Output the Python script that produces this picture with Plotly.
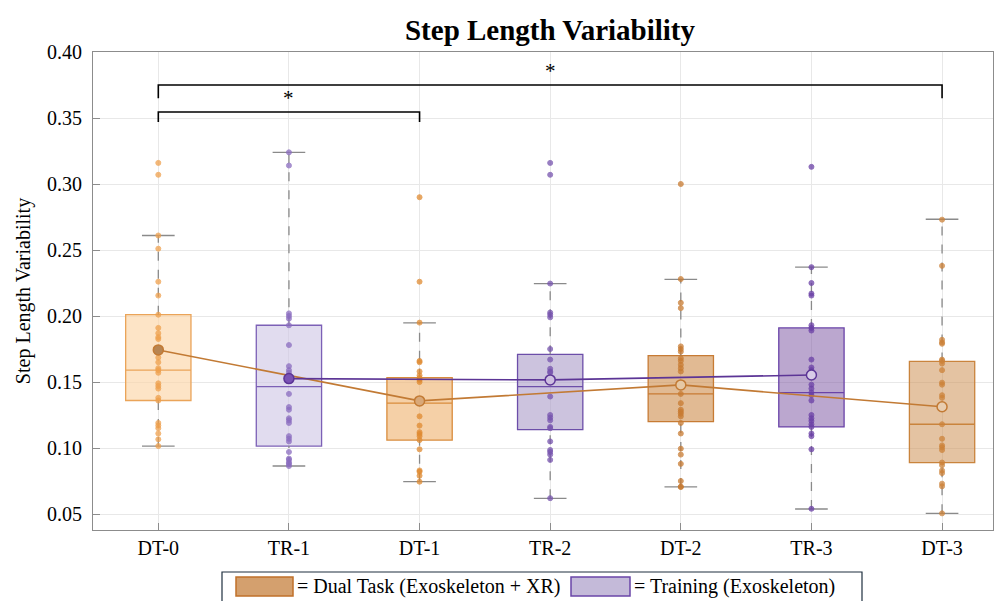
import plotly.graph_objects as go

categories = ["DT-0", "TR-1", "DT-1", "TR-2", "DT-2", "TR-3", "DT-3"]
groups = ["DT", "TR", "DT", "TR", "DT", "TR", "DT"]

q1 = [0.136, 0.1015, 0.106, 0.114, 0.120, 0.116, 0.0889]
median = [0.159, 0.1465, 0.134, 0.1465, 0.141, 0.142, 0.118]
q3 = [0.201, 0.193, 0.1533, 0.171, 0.170, 0.191, 0.1656]
whisker_low = [0.1015, 0.0864, 0.0745, 0.0619, 0.0705, 0.0538, 0.0505]
whisker_high = [0.261, 0.324, 0.1948, 0.2246, 0.2278, 0.237, 0.2733]
means = [0.1743, 0.1526, 0.1357, 0.1516, 0.1478, 0.1553, 0.1313]

points = [
    [0.316, 0.307, 0.261, 0.251, 0.226, 0.2155, 0.201, 0.191, 0.187, 0.184, 0.1826, 0.174,
     0.1685, 0.165, 0.1605, 0.159, 0.157, 0.149, 0.147, 0.145, 0.138, 0.136, 0.119, 0.117,
     0.115, 0.111, 0.1066, 0.1015],
    [0.324, 0.314, 0.202, 0.200, 0.198, 0.193, 0.178, 0.162, 0.159, 0.157, 0.153, 0.141,
     0.131, 0.129, 0.1225, 0.121, 0.119, 0.109, 0.107, 0.105, 0.097, 0.092, 0.091, 0.089,
     0.088, 0.0864],
    [0.290, 0.226, 0.195, 0.166, 0.165, 0.158, 0.155, 0.153, 0.1516, 0.150, 0.137, 0.134,
     0.124, 0.117, 0.112, 0.1106, 0.109, 0.106, 0.099, 0.083, 0.082, 0.079, 0.0745],
    [0.316, 0.307, 0.2246, 0.2026, 0.201, 0.199, 0.175, 0.167, 0.160, 0.158, 0.157, 0.152,
     0.139, 0.125, 0.123, 0.121, 0.116, 0.115, 0.105, 0.0985, 0.097, 0.095, 0.091, 0.062],
    [0.300, 0.228, 0.210, 0.206, 0.177, 0.175, 0.173, 0.168, 0.166, 0.163, 0.1605, 0.158,
     0.148, 0.141, 0.134, 0.129, 0.1275, 0.126, 0.124, 0.119, 0.111, 0.0995, 0.095, 0.088,
     0.075, 0.0707, 0.0705],
    [0.313, 0.237, 0.225, 0.217, 0.2155, 0.193, 0.191, 0.189, 0.167, 0.161, 0.159, 0.155,
     0.148, 0.145, 0.142, 0.140, 0.136, 0.125, 0.1225, 0.1205, 0.118, 0.116, 0.111, 0.109,
     0.099, 0.054],
    [0.273, 0.238, 0.182, 0.180, 0.179, 0.167, 0.166, 0.164, 0.159, 0.1495, 0.148, 0.140,
     0.138, 0.131, 0.118, 0.107, 0.102, 0.1005, 0.0985, 0.089, 0.087, 0.083, 0.081, 0.073,
     0.071, 0.0505],
]

box_fill = ["rgba(252,214,168,0.65)", "rgba(205,196,228,0.6)", "rgba(240,183,120,0.65)",
            "rgba(170,155,200,0.6)", "rgba(205,140,75,0.6)", "rgba(120,80,160,0.5)",
            "rgba(205,145,85,0.55)"]
box_line = ["#eaa459", "#7c60b6", "#d98c3c", "#6c4ea9", "#c77b34", "#6a43a8", "#c9843d"]
point_col = ["#efa04c", "#8a6cc0", "#e08a30", "#7653ae", "#c87a30", "#6a3fa6", "#cd8238"]
mean_fill = ["#b88552", "#7a52b5", "#d9a878", "#cdbfe0", "#e6c8a4", "#d8cce8", "#e8cdb0"]

dt_line = "#c27a34"
tr_line = "#5c3596"
font_family = "Liberation Serif"

fig = go.Figure()
xs = list(range(len(categories)))

# whiskers (dashed) and caps
for i, x in enumerate(xs):
    fig.add_trace(go.Scatter(x=[x, x], y=[whisker_low[i], q1[i]], mode="lines",
                             line=dict(color="#8a8a8a", width=1.3, dash="dash"),
                             showlegend=False, hoverinfo="skip"))
    fig.add_trace(go.Scatter(x=[x, x], y=[q3[i], whisker_high[i]], mode="lines",
                             line=dict(color="#8a8a8a", width=1.3, dash="dash"),
                             showlegend=False, hoverinfo="skip"))
    for v in (whisker_low[i], whisker_high[i]):
        fig.add_trace(go.Scatter(x=[x - 0.125, x + 0.125], y=[v, v], mode="lines",
                                 line=dict(color="#8a8a8a", width=1.3),
                                 showlegend=False, hoverinfo="skip"))

# boxes
for i, x in enumerate(xs):
    fig.add_trace(go.Box(x=[x], q1=[q1[i]], median=[median[i]], q3=[q3[i]],
                         lowerfence=[q1[i]], upperfence=[q3[i]],
                         width=0.5, fillcolor=box_fill[i],
                         line=dict(color=box_line[i], width=1.3),
                         boxpoints=False, showlegend=False, hoverinfo="skip"))

# points
for i, x in enumerate(xs):
    fig.add_trace(go.Scatter(x=[x] * len(points[i]), y=points[i], mode="markers",
                             marker=dict(size=5, color=point_col[i], opacity=0.75,
                                         line=dict(color=point_col[i], width=1)),
                             showlegend=False, hoverinfo="skip"))

# mean lines
dt_idx = [i for i, g in enumerate(groups) if g == "DT"]
tr_idx = [i for i, g in enumerate(groups) if g == "TR"]
fig.add_trace(go.Scatter(x=[xs[i] for i in dt_idx], y=[means[i] for i in dt_idx],
                         mode="lines", line=dict(color=dt_line, width=1.6),
                         showlegend=False, hoverinfo="skip"))
fig.add_trace(go.Scatter(x=[xs[i] for i in tr_idx], y=[means[i] for i in tr_idx],
                         mode="lines", line=dict(color=tr_line, width=1.6),
                         showlegend=False, hoverinfo="skip"))
for i, x in enumerate(xs):
    edge = dt_line if groups[i] == "DT" else tr_line
    fig.add_trace(go.Scatter(x=[x], y=[means[i]], mode="markers",
                             marker=dict(size=10, color=mean_fill[i],
                                         line=dict(color=edge, width=1.5)),
                             showlegend=False, hoverinfo="skip"))

# significance brackets
brackets = [(0, 2, 0.3545, 0.347), (0, 6, 0.375, 0.365)]
for a, b, top, bot in brackets:
    fig.add_trace(go.Scatter(x=[a, a, b, b], y=[bot, top, top, bot], mode="lines",
                             line=dict(color="black", width=1.6),
                             showlegend=False, hoverinfo="skip"))
    fig.add_annotation(x=(a + b) / 2, y=top, text="*", showarrow=False, yanchor="bottom",
                       yshift=0, font=dict(family=font_family, size=21, color="black"))

# custom legend at bottom
fig.add_shape(type="rect", xref="paper", yref="paper", x0=(222 - 93) / 900, x1=(862 - 93) / 900,
              y0=(530 - 605) / 478, y1=(530 - 572) / 478,
              line=dict(color="#1f2f3f", width=1.2), fillcolor="white")
fig.add_shape(type="rect", xref="paper", yref="paper", x0=(236 - 93) / 900, x1=(293 - 93) / 900,
              y0=(530 - 596) / 478, y1=(530 - 577) / 478,
              line=dict(color="#c0702a", width=1.5), fillcolor="#d4a06e")
fig.add_annotation(xref="paper", yref="paper", x=(295 - 93) / 900, y=(530 - 586.5) / 478,
                   xanchor="left", yanchor="middle", showarrow=False,
                   text="= Dual Task (Exoskeleton + XR)",
                   font=dict(family=font_family, size=20, color="black"))
fig.add_shape(type="rect", xref="paper", yref="paper", x0=(571 - 93) / 900, x1=(630 - 93) / 900,
              y0=(530 - 596) / 478, y1=(530 - 577) / 478,
              line=dict(color="#6a45a8", width=1.5), fillcolor="#c4bad9")
fig.add_annotation(xref="paper", yref="paper", x=(632 - 93) / 900, y=(530 - 586.5) / 478,
                   xanchor="left", yanchor="middle", showarrow=False,
                   text="= Training (Exoskeleton)",
                   font=dict(family=font_family, size=20, color="black"))

fig.update_layout(
    width=995, height=601,
    margin=dict(l=93, r=2, t=52, b=71),
    paper_bgcolor="white", plot_bgcolor="white",
    title=dict(text="<b>Step Length Variability</b>", x=550 / 995, xanchor="center",
               y=1 - 30 / 601, yanchor="middle",
               font=dict(family=font_family, size=29, color="black")),
    font=dict(family=font_family, size=20, color="black"),
    showlegend=False,
)
fig.update_xaxes(range=[-0.5, 6.39], tickvals=xs, ticktext=categories,
                 showgrid=True, gridcolor="#e8e8e8", gridwidth=1,
                 showline=True, linecolor="#8c8c8c", linewidth=1.2, mirror=True,
                 ticks="inside", ticklen=7, tickcolor="#8c8c8c", zeroline=False,
                 tickfont=dict(family=font_family, size=20, color="black"))
fig.update_yaxes(range=[0.0379, 0.40], tickvals=[0.05, 0.10, 0.15, 0.20, 0.25, 0.30, 0.35, 0.40],
                 tickformat=".2f", ticklabelstandoff=6,
                 showgrid=True, gridcolor="#e8e8e8", gridwidth=1,
                 showline=True, linecolor="#8c8c8c", linewidth=1.2, mirror=True,
                 ticks="inside", ticklen=7, tickcolor="#8c8c8c", zeroline=False,
                 title=dict(text="Step Length Variability", standoff=10,
                            font=dict(family=font_family, size=20, color="black")),
                 tickfont=dict(family=font_family, size=20, color="black"))

fig.write_html("out.html")
